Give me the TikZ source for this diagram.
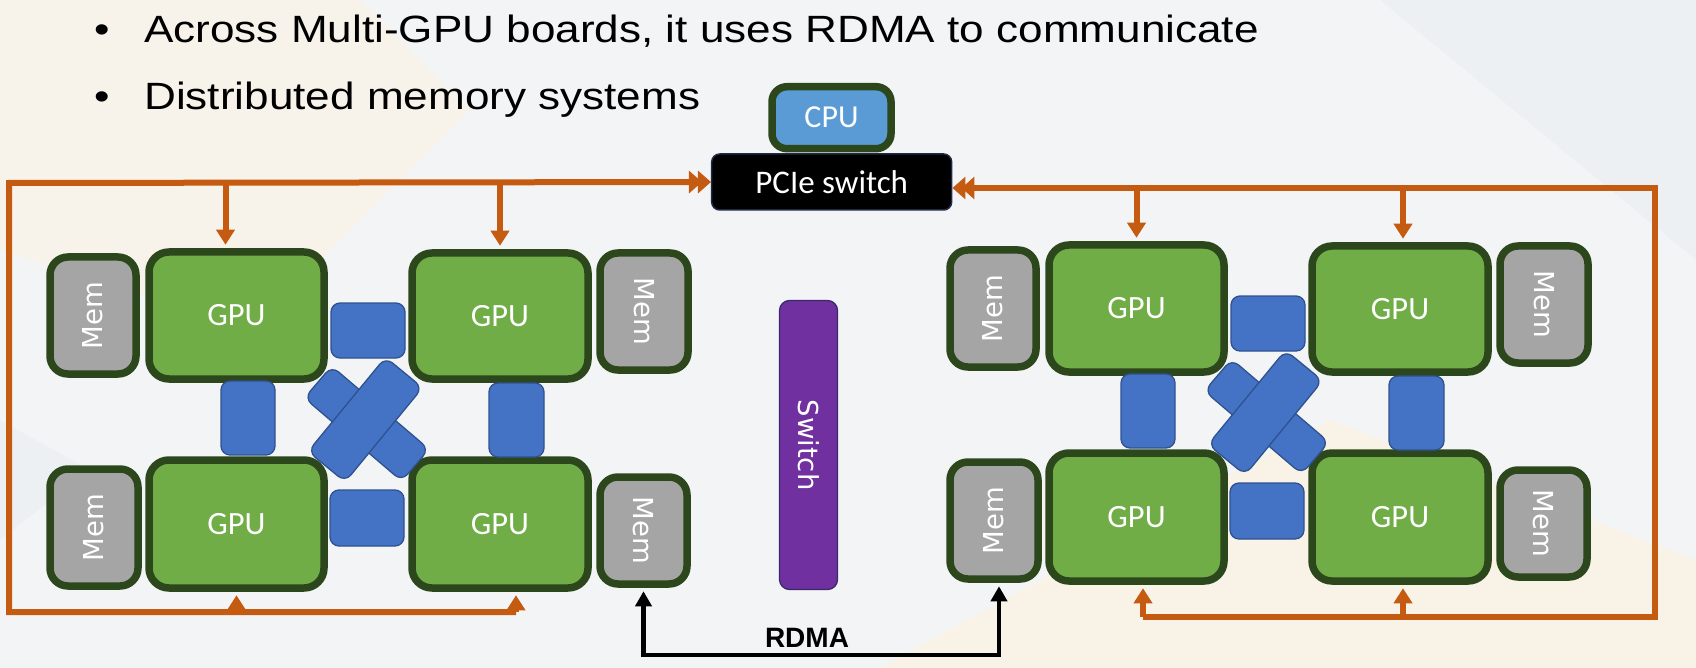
\documentclass[tikz,border=0pt]{standalone}
\usepackage{fontspec}
\setmainfont{Liberation Sans}
\newfontfamily\bulletfont[FakeStretch=1.16]{Liberation Sans}
\newfontfamily\calfont{Carlito}
\newfontfamily\memfont{DejaVu Sans}
\usetikzlibrary{arrows.meta}
\definecolor{wireor}{HTML}{C55A11}
\definecolor{gpugreen}{HTML}{70AD47}
\definecolor{dkgreen}{HTML}{2C471C}
\definecolor{memgray}{HTML}{A5A5A5}
\definecolor{linkblue}{HTML}{4472C4}
\definecolor{linkborder}{HTML}{2F528F}
\definecolor{cpublue}{HTML}{5B9BD5}
\definecolor{swpurple}{HTML}{7030A0}
\definecolor{swborder}{HTML}{3A2A6A}
\definecolor{pcieborder}{HTML}{1F2A44}
\definecolor{bggray}{HTML}{F3F4F6}
\definecolor{bgcream}{HTML}{FAF3E2}
\definecolor{bgblue}{HTML}{E9EEF2}
\tikzset{
  gpub/.style={draw=dkgreen, line width=7.5pt, fill=gpugreen, rounded corners=20pt, text=white,
    font=\calfont\fontsize{32.5}{36}\selectfont, inner sep=0pt},
  memb/.style={draw=dkgreen, line width=7.5pt, fill=memgray, rounded corners=18pt, text=white,
    font=\memfont\fontsize{27.5}{30}\selectfont, inner sep=0pt},
  linkb/.style={draw=linkborder, line width=1.3pt, fill=linkblue, rounded corners=9pt, inner sep=0pt},
  wire/.style={draw=wireor, line width=6pt},
  otip/.style={-{Triangle[length=15pt,width=18pt]}, shorten >=3.5pt},
  ptip/.style={-{Triangle[length=13pt,width=22pt,sep=-4pt]Triangle[length=13pt,width=22pt]}},
  rdmaw/.style={draw=black, line width=4.5pt},
  bullettext/.style={anchor=base west, inner sep=0pt, font=\bulletfont\fontsize{38}{44}\selectfont, text=black},
}
\newcommand\gpuboard[3]{%
\begin{scope}[shift={(#2,#3)}]
  \node[memb, minimum width=86pt, minimum height=117pt] (#1mTL) at (93,315.5) {\rotatebox{90}{Mem}};
  \node[gpub, minimum width=175pt, minimum height=127pt] (#1gTL) at (236.5,315.5) {GPU};
  \node[gpub, minimum width=176pt, minimum height=126pt] (#1gTR) at (500,316) {GPU};
  \node[memb, minimum width=88pt, minimum height=117pt] (#1mTR) at (644,311.5) {\rotatebox{-90}{Mem}};
  \node[memb, minimum width=88pt, minimum height=117pt] (#1mBL) at (94,527.5) {\rotatebox{90}{Mem}};
  \node[gpub, minimum width=175pt, minimum height=128pt] (#1gBL) at (236.5,524) {GPU};
  \node[gpub, minimum width=176pt, minimum height=128pt] (#1gBR) at (500,524) {GPU};
  \node[memb, minimum width=87pt, minimum height=107pt] (#1mBR) at (643.5,530.5) {\rotatebox{-90}{Mem}};
  \node[linkb, minimum width=74pt, minimum height=55pt] (#1lT) at (368,330.5) {};
  \node[linkb, minimum width=74pt, minimum height=56pt] (#1lB) at (367,518) {};
  \node[linkb, minimum width=54pt, minimum height=74pt] (#1lL) at (248,418) {};
  \node[linkb, minimum width=55pt, minimum height=74pt] (#1lR) at (516.5,420) {};
  \node[linkb, minimum width=128pt, minimum height=42pt, rotate=-40.5] (#1xA) at (366.7,423.6) {};
  \node[linkb, minimum width=122pt, minimum height=48pt, rotate=50.6] (#1xB) at (365.3,419.6) {};
\end{scope}}
\begin{document}
\begin{tikzpicture}[x=1pt,y=-1pt]
\useasboundingbox (0,0) rectangle (1696,668);
\fill[bggray] (0,0) rectangle (1696,668);
\fill[bgcream, opacity=0.6] (0,0) -- (360,0) -- (470,110) -- (250,330) -- (0,250) -- cycle;
\fill[bgcream, opacity=0.8] (880,668) -- (1330,420) -- (1696,560) -- (1696,668) -- cycle;
\fill[bgblue, opacity=0.6] (1380,0) -- (1696,0) -- (1696,260) -- cycle;
\fill[bgblue, opacity=0.5] (0,420) -- (90,470) -- (0,540) -- cycle;
% bullets
\node[bullettext] (b1) at (94,43) {•};
\node[bullettext] (t1) at (144,43) {Across Multi-GPU boards, it uses RDMA to communicate};
\node[bullettext] (b2) at (94,110) {•};
\node[bullettext] (t2) at (144,110) {Distributed memory systems};
% CPU and PCIe switch
\node[draw=pcieborder, line width=1.5pt, fill=black, rounded corners=8pt, minimum width=240pt,
  minimum height=56pt, inner sep=0pt, text=white, font=\calfont\fontsize{33}{36}\selectfont] (pcie) at (831.7,182) {PCIe switch};
\node[draw=dkgreen, line width=7.5pt, fill=cpublue, rounded corners=15pt, minimum width=119pt,
  minimum height=62pt, inner sep=0pt, text=white, font=\calfont\fontsize{32}{36}\selectfont] (cpu) at (831.5,117.7) {CPU};
% boards
\gpuboard{L}{0}{0}
\gpuboard{R}{900}{-7}
% central switch
\node[draw=swborder, line width=1.3pt, fill=swpurple, rounded corners=10pt, minimum width=58pt,
  minimum height=289pt, inner sep=0pt, text=white, font=\memfont\fontsize{27.5}{30}\selectfont] (sw) at (808.5,445) {\rotatebox{-90}{Switch}};
% orange wiring, left board
\coordinate (oTL) at (9,183);
\coordinate (oBL) at (9,612);
\draw[wire, ptip] ([xshift=16pt]LgBR.south |- oBL) -- (oBL) -- (oTL) -- (pcie.west);
\draw[wire, otip] ([xshift=-11pt]LgTL.north |- oTL) -- ([xshift=-11pt]LgTL.north);
\draw[wire, otip] (LgTR.north |- oTL) -- (LgTR.north);
\draw[wire, otip] (LgBL.south |- oBL) -- (LgBL.south);
\draw[wire, otip] ([xshift=16pt]LgBR.south |- oBL) -- ([xshift=16pt]LgBR.south);
% orange wiring, right board
\coordinate (oTR) at (1655,188);
\coordinate (oBR) at (1655,617);
\draw[wire, ptip] ([xshift=6.5pt]RgBL.south |- oBR) -- (oBR) -- (oTR) -- ([yshift=-6pt]pcie.east);
\draw[wire, otip] (RgTL.north |- oTR) -- (RgTL.north);
\draw[wire, otip] ([xshift=3pt]RgTR.north |- oTR) -- ([xshift=3pt]RgTR.north);
\draw[wire, otip] ([xshift=6.5pt]RgBL.south |- oBR) -- ([xshift=6.5pt]RgBL.south);
\draw[wire, otip] ([xshift=3pt]RgBR.south |- oBR) -- ([xshift=3pt]RgBR.south);
% RDMA
\coordinate (rdmaR) at (999,655);
\draw[rdmaw, {Triangle[length=15pt,width=16pt]}-{Triangle[length=15pt,width=16pt]}, shorten <=3.5pt, shorten >=3.5pt]
  (LmBR.south) -- (LmBR.south |- rdmaR) -- (rdmaR) -- (rdmaR |- RmBL.south);
\node[anchor=base, inner sep=0pt, font=\bfseries\fontsize{28}{32}\selectfont] (rdma) at (807,647) {RDMA};
\end{tikzpicture}
\end{document}
